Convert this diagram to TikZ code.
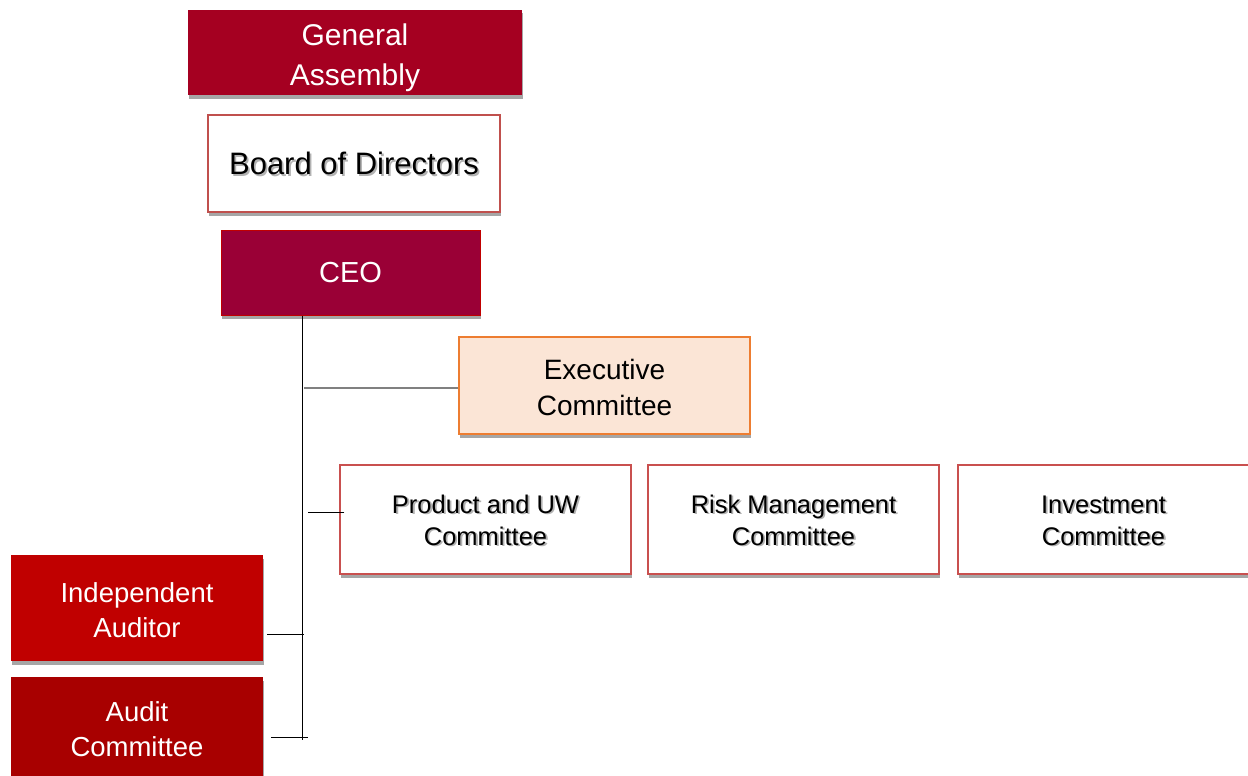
\documentclass[tikz,border=0pt]{standalone}
\usepackage{fontspec}
\setmainfont{Liberation Sans}
\usetikzlibrary{positioning,shadows}
\definecolor{gared}{HTML}{A50021}
\definecolor{ceored}{HTML}{9A0036}
\definecolor{ceoedge}{HTML}{C00000}
\definecolor{bodedge}{HTML}{C0504D}
\definecolor{execfill}{HTML}{FBE5D6}
\definecolor{execedge}{HTML}{ED7D31}
\definecolor{cmtedge}{HTML}{C9504F}
\definecolor{indred}{HTML}{C00000}
\definecolor{audred}{HTML}{A80000}
\definecolor{linkgray}{HTML}{808080}
% centred lines, lowered a little without changing the box size
\newcommand\tb[2][0pt]{\raisebox{-#1}[\height][\depth]{\begin{tabular}{@{}c@{}}#2\end{tabular}}}
% same, with a soft gray text shadow
\newcommand\shtxt[2][0pt]{\raisebox{-#1}[\height][\depth]{\rlap{\kern1.8pt\raisebox{-1.8pt}{\color{black!30}\begin{tabular}[b]{@{}c@{}}#2\end{tabular}}}\begin{tabular}[b]{@{}c@{}}#2\end{tabular}}}
\tikzset{
  base/.style={rectangle,inner sep=0pt,align=center,minimum width=291pt,minimum height=97pt,
    drop shadow={shadow xshift=1pt,shadow yshift=-3.5pt,fill=black!35,opacity=1}},
  fillbox/.style={base,fill=#1,text=white},
  linebox/.style={base,draw=cmtedge,line width=1.5pt,fill=white},
  cmtbox/.style={linebox,minimum height=109pt,font=\fontsize{25.5}{32}\selectfont},
  sidebox/.style={fillbox=#1,minimum width=252pt,font=\fontsize{27.5}{35}\selectfont},
  link/.style={draw=black,line width=1pt},
}
\begin{document}
\begin{tikzpicture}[x=1pt,y=-1pt]
\clip (0,0) rectangle (1248,776);
% top of the chart
\node[fillbox=gared,minimum width=334pt,minimum height=85pt,font=\fontsize{30}{40}\selectfont] (ga) at (355,52.5) {\tb[5pt]{General\\Assembly}};
\node[linebox,draw=bodedge,minimum width=292pt,font=\fontsize{31}{38}\selectfont] (board) at (354,163.5) {\shtxt[4pt]{Board of Directors}};
\node[fillbox=ceored,draw=ceoedge,line width=1pt,minimum width=259pt,minimum height=85pt,font=\fontsize{29}{36}\selectfont] (ceo) at (350.5,272.5) {CEO};
\node[base,fill=execfill,draw=execedge,line width=2pt,drop shadow={opacity=0},font=\fontsize{28}{36}\selectfont] (exec) at (604.5,385.5) {\tb[4.5pt]{Executive\\Committee}};
% committees
\node[cmtbox] (prod) at (485.5,519.5) {\shtxt[4pt]{Product and UW\\Committee}};
\node[cmtbox,right=15.5pt of prod] (risk) {\shtxt[4pt]{Risk Management\\Committee}};
\node[cmtbox,right=17.5pt of risk] (inv) {\shtxt[4pt]{Investment\\Committee}};
% audit side
\node[sidebox=indred,minimum height=106pt] (indep) at (137,608) {\tb[5pt]{Independent\\Auditor}};
\node[sidebox=audred,minimum height=104pt,below=16pt of indep] (audit) {\tb[3pt]{Audit\\Committee}};
% connectors
\coordinate (trunk) at (302,740);
\draw[link] (ceo.south -| trunk) -- (trunk);
\draw[link,draw=linkgray,line width=1.5pt] ([yshift=-2.5pt]exec.west) -- ([xshift=2pt,yshift=-2.5pt]exec.west -| trunk);
\draw[link] ([xshift=5pt,yshift=7.5pt]prod.west) -- ++(-36,0);
\draw[link] ([xshift=4pt,yshift=-26pt]indep.east) -- ++(37,0);
\draw[link] ([xshift=8pt,yshift=-8pt]audit.east) -- ++(37,0);
\end{tikzpicture}
\end{document}
